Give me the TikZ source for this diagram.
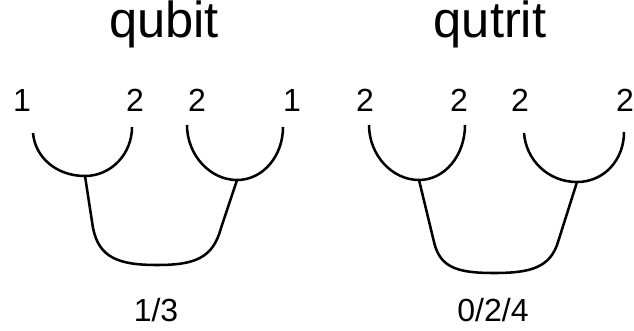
\documentclass[tikz,border=0pt]{standalone}
\usepackage{fontspec}
\setmainfont{Liberation Sans}
\begin{document}
\begin{tikzpicture}[x=0.75pt,y=-0.75pt,
    wire/.style = {line width=1.9pt},
    lbl/.style = {inner sep=0pt, font=\fontsize{24}{24}\selectfont},
    title/.style = {inner sep=0pt, anchor=base, font=\fontsize{38}{38}\selectfont}]
  \useasboundingbox (0,0) rectangle (634,331);

  % qubit
  \node[title] (qubit) at (164,38) {qubit};
  \node[lbl] (qa) at (22,100) {1};
  \node[lbl] (qb) at (135,100) {2};
  \node[lbl] (qc) at (197,100) {2};
  \node[lbl] (qd) at (292,100) {1};
  \node[lbl,anchor=base] (qsum) at (156,321) {1/3};

  \coordinate (qa1) at (33,133);
  \coordinate (qb1) at (132,127);
  \coordinate (qc1) at (187,125);
  \coordinate (qd1) at (283,127);
  \coordinate (qL) at (85,176);
  \coordinate (qR) at (237,180);
  \coordinate (qL2) at (93,228);
  \coordinate (qR2) at (221,228);
  \coordinate (qbot) at (157,265);

  \draw[wire] (qa1) .. controls +(2,24) and +(-29,0) .. (qL)
              .. controls +(26,0) and +(0,27) .. (qb1);
  \draw[wire] (qc1) .. controls +(0,30) and +(-27,0) .. (qR)
              .. controls +(26,0) and +(0,29) .. (qd1);
  \draw[wire] (qL) -- (qL2) .. controls +(6,30) and +(-38,0) .. (qbot)
              .. controls +(38,0) and +(-8,30) .. (qR2) -- (qR);

  % qutrit
  \node[title] (qutrit) at (490,38) {qutrit};
  \node[lbl] (ta) at (365,100) {2};
  \node[lbl] (tb) at (459,100) {2};
  \node[lbl] (tc) at (520,100) {2};
  \node[lbl] (td) at (625,100) {2};
  \node[lbl,anchor=base] (tsum) at (493,321) {0/2/4};

  \coordinate (ta1) at (369,125);
  \coordinate (tb1) at (465,125);
  \coordinate (tc1) at (524,133);
  \coordinate (td1) at (624,132);
  \coordinate (tL) at (419,180);
  \coordinate (tR) at (577,182);
  \coordinate (tL2) at (434,242);
  \coordinate (tR2) at (558,242);
  \coordinate (tbot) at (494,273);

  \draw[wire] (ta1) .. controls +(0,30) and +(-27,0) .. (tL)
              .. controls +(26,0) and +(0,30) .. (tb1);
  \draw[wire] (tc1) .. controls +(2,27) and +(-29,0) .. (tR)
              .. controls +(27,0) and +(0,28) .. (td1);
  \draw[wire] (tL) -- (tL2) .. controls +(6,26) and +(-36,0) .. (tbot)
              .. controls +(36,0) and +(-8,26) .. (tR2) -- (tR);
\end{tikzpicture}
\end{document}
